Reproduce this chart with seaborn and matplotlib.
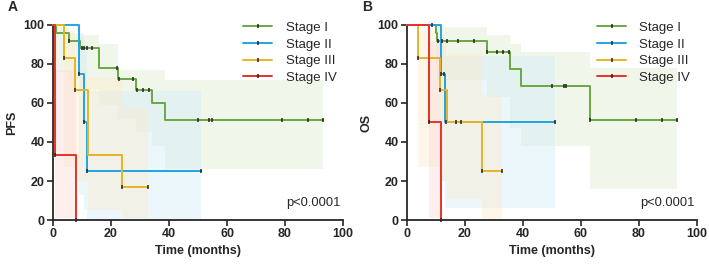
import numpy as np
import pandas as pd
import matplotlib
matplotlib.use("Agg")
import matplotlib.pyplot as plt
import seaborn as sns
from matplotlib.lines import Line2D

stages = ["Stage I", "Stage II", "Stage III", "Stage IV"]
colors = ["#6aa843", "#22a3e3", "#e6b429", "#e8312a"]
band_colors = ["#dcebcf", "#d3ecf9", "#fcebcc", "#fcd9d5"]

# ---- PFS (panel A): step times / survival (%) ----
pfs_t = [
    [0, 1, 5.6, 9.3, 16, 22.3, 28.6, 34, 38.6, 93],
    [0, 9.1, 10.8, 11.6, 51],
    [0, 3.8, 7.6, 12, 23.9, 32.9],
    [0, 0.7, 7.8],
]
pfs_s = [
    [100, 96, 92, 88, 78, 72.2, 66.7, 59.8, 51.5, 51.5],
    [100, 75, 50, 25, 25],
    [100, 83.3, 66.7, 33.3, 16.7, 16.7],
    [100, 33.3, 0],
]
pfs_cens = [
    [5.6, 10, 10.8, 11.6, 13.5, 22, 22.8, 27.7, 29, 31.1, 33.1, 50, 53.7, 54.8, 79, 88, 93],
    [9.1, 10.8, 11.6, 51],
    [3.8, 7.6, 23.9, 32.9],
    [0.7, 7.8],
]
# confidence bands: start time of each step, lower, upper
pfs_band_t = [
    [1, 5.6, 9.3, 16, 22.3, 28.6, 34, 38.6, 93],
    [9.1, 10.8, 11.6, 51],
    [3.8, 7.6, 12, 23.9, 32.9],
    [0.7, 7.8],
]
pfs_band_lo = [
    [76, 72, 67, 59, 52, 45, 38, 26, 26],
    [13, 5, 0.5, 0.5],
    [27, 20, 5, 1, 1],
    [1, 1],
]
pfs_band_hi = [
    [99, 96, 95, 90, 77, 77, 77, 72, 72],
    [96, 90, 66, 66],
    [97, 77, 73, 57, 57],
    [77, 77],
]

# ---- OS (panel B) ----
os_t = [
    [0, 9.9, 10.5, 27.7, 35.7, 39.2, 63, 93],
    [0, 11.6, 13, 51],
    [0, 3.8, 11.4, 13.7, 26, 32.9],
    [0, 7.6, 11.6],
]
os_s = [
    [100, 96, 91.8, 86.3, 77.3, 68.5, 51.5, 51.5],
    [100, 75, 50, 50],
    [100, 83.3, 66.7, 50, 25, 25],
    [100, 50, 0],
]
os_cens = [
    [8.7, 10.8, 12, 13.8, 17.5, 23, 27.7, 30.9, 33.1, 35.2, 50, 54, 54.8, 63, 79, 88, 93],
    [11.6, 12.8, 13.5, 16.8, 18.7, 51],
    [3.8, 11.4, 26, 32.9],
    [7.6, 11.6],
]
os_band_t = [
    [9.9, 10.5, 27.7, 35.7, 39.2, 63, 93],
    [11.6, 13, 51],
    [3.8, 11.4, 13.7, 26, 32.9],
    [7.6, 11.6],
]
os_band_lo = [
    [78, 72, 63, 47, 38, 16, 16],
    [20, 6, 6],
    [27, 20, 11, 0.5, 0.5],
    [1, 1],
]
os_band_hi = [
    [99, 99, 95, 90, 86, 78, 78],
    [95, 84, 84],
    [97, 92, 85, 64, 64],
    [91, 91],
]


def step_value(t, times, surv):
    idx = np.searchsorted(times, t, side="right") - 1
    return np.asarray(surv)[idx]


def draw_panel(ax, times, surv, cens, bt, blo, bhi, ylabel, letter):
    for i in range(len(stages)):
        ax.fill_between(bt[i], blo[i], bhi[i], step="post",
                        color=band_colors[i], alpha=0.42, lw=0, zorder=1)
    for i in reversed(range(len(stages))):
        df = pd.DataFrame({"t": times[i], "s": surv[i]})
        sns.lineplot(data=df, x="t", y="s", ax=ax, color=colors[i],
                     drawstyle="steps-post", lw=1.4, estimator=None,
                     sort=False, zorder=3 + i * 0.1, clip_on=False)
        cy = step_value(cens[i], times[i], surv[i])
        ax.plot(cens[i], cy, ls="none", marker="|", ms=3, mew=1.1,
                color="#222222", zorder=5, clip_on=False)

    ax.set_xlim(0, 100)
    ax.set_ylim(0, 100)
    ax.set_xticks(range(0, 101, 20))
    ax.set_yticks(range(0, 101, 20))
    ax.set_xlabel("Time (months)", fontsize=9, fontweight="bold", labelpad=3)
    ax.set_ylabel(ylabel, fontsize=9, fontweight="bold", labelpad=4)
    for lab in ax.get_xticklabels() + ax.get_yticklabels():
        lab.set_fontweight("bold")
    ax.tick_params(labelsize=9, width=1.2, length=4, direction="out", pad=2)
    for side in ["left", "bottom"]:
        ax.spines[side].set_linewidth(1.3)
    sns.despine(ax=ax)

    handles = [Line2D([0], [0], color=c, lw=1.4, marker="|", ms=3, mew=1.1,
                      markeredgecolor="#222222") for c in colors]
    ax.legend(handles, stages, loc="upper right", frameon=False, fontsize=9.5,
              handlelength=2.2, handletextpad=1.0, labelspacing=0.33,
              borderaxespad=0.1, bbox_to_anchor=(1.0, 1.05))
    ax.text(99, 8.5, "p<0.0001", ha="right", va="center", fontsize=9.3)
    ax.text(-0.155, 1.09, letter, transform=ax.transAxes, fontsize=10,
            fontweight="bold", va="center", ha="left")


sns.set_style("ticks")
plt.rcParams["font.family"] = ["Liberation Sans", "DejaVu Sans"]

fig = plt.figure(figsize=(7.09, 2.68), dpi=100)
ax_a = fig.add_axes([0.0748, 0.179, 0.409, 0.728])
ax_b = fig.add_axes([0.574, 0.179, 0.409, 0.728])

draw_panel(ax_a, pfs_t, pfs_s, pfs_cens, pfs_band_t, pfs_band_lo, pfs_band_hi, "PFS", "A")
draw_panel(ax_b, os_t, os_s, os_cens, os_band_t, os_band_lo, os_band_hi, "OS", "B")

fig.savefig("out.png", dpi=100)
